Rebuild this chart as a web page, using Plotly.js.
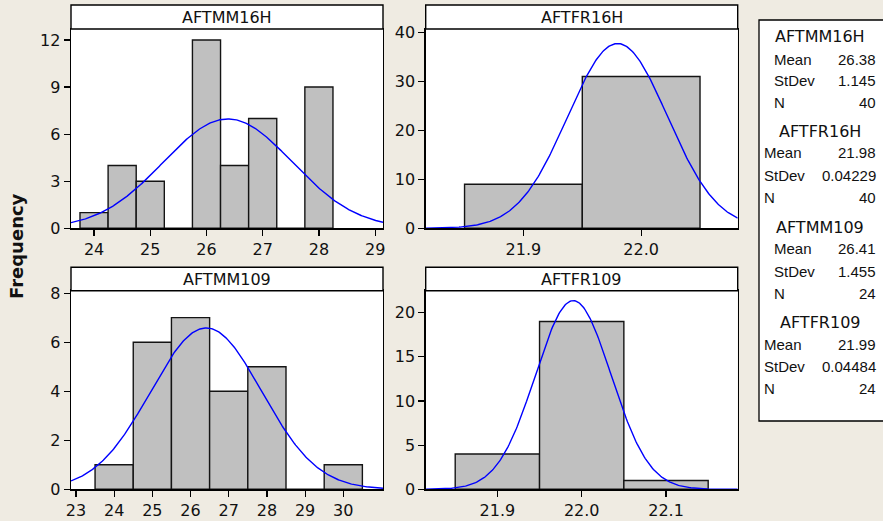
<!DOCTYPE html>
<html>
<head>
<meta charset="utf-8">
<script src="https://cdn.plot.ly/plotly-3.0.1.min.js"></script>
<style>html,body{margin:0;padding:0;background:#EFEBE2;}#chart{width:883px;height:521px;}</style>
</head>
<body>
<div id="chart"></div>
<script>
// ---- Data ----
var panelNames = ["AFTMM16H", "AFTFR16H", "AFTMM109", "AFTFR109"];

var mm16hBins = [24, 24.5, 25, 25.5, 26, 26.5, 27, 27.5, 28];
var mm16hCounts = [1, 4, 3, 0, 12, 4, 7, 0, 9];

var fr16hBins = [21.9, 22.0];
var fr16hCounts = [9, 31];

var mm109Bins = [24, 25, 26, 27, 28, 29, 30];
var mm109Counts = [1, 6, 7, 4, 5, 0, 1];

var fr109Bins = [21.9, 22.0, 22.1];
var fr109Counts = [4, 19, 1];

var binWidths = [0.5, 0.1, 1, 0.1];

// summary statistics shown in the side table
var statMeans = [26.38, 21.98, 26.41, 21.99];
var statStdevs = [1.145, 0.04229, 1.455, 0.04484];
var statNs = [40, 40, 24, 24];
var statMeanText = ["26.38", "21.98", "26.41", "21.99"];
var statStdevText = ["1.145", "0.04229", "1.455", "0.04484"];
var statNText = ["40", "40", "24", "24"];

// tick labels
var xTicks1 = [24, 25, 26, 27, 28, 29];
var xTicks2 = [21.9, 22.0];
var xTicks2Text = ["21.9", "22.0"];
var xTicks3 = [23, 24, 25, 26, 27, 28, 29, 30];
var xTicks4 = [21.9, 22.0, 22.1];
var xTicks4Text = ["21.9", "22.0", "22.1"];

// ---- Layout helpers (pixel -> paper) ----
var W = 883, H = 521;
function px(x) { return x / W; }
function py(y) { return 1 - y / H; }

var xRanges = [[23.59, 29.14], [21.817, 22.082], [22.87, 31.04], [21.815, 22.185]];
var yRanges = [[0, 12.7], [0, 40.7], [0, 8.1], [0, 22.48]];

var bins = [mm16hBins, fr16hBins, mm109Bins, fr109Bins];
var counts = [mm16hCounts, fr16hCounts, mm109Counts, fr109Counts];

var traces = [];
for (var i = 0; i < 4; i++) {
  var xa = i === 0 ? "x" : "x" + (i + 1);
  var ya = i === 0 ? "y" : "y" + (i + 1);
  traces.push({
    type: "bar", x: bins[i], y: counts[i], width: binWidths[i],
    xaxis: xa, yaxis: ya,
    marker: { color: "#C0C0C0", line: { color: "#141414", width: 1.4 } },
    hoverinfo: "skip", showlegend: false
  });
  // fitted normal curve scaled to counts: N * binWidth * pdf(mean, stdev)
  var cx = [], cy = [];
  var r = xRanges[i];
  var steps = 300;
  for (var k = 0; k <= steps; k++) {
    var xv = r[0] + (r[1] - r[0]) * k / steps;
    var z = (xv - statMeans[i]) / statStdevs[i];
    cx.push(xv);
    cy.push(statNs[i] * binWidths[i] * Math.exp(-0.5 * z * z) / (statStdevs[i] * Math.sqrt(2 * Math.PI)));
  }
  traces.push({
    type: "scatter", mode: "lines", x: cx, y: cy,
    xaxis: xa, yaxis: ya,
    line: { color: "#0000FF", width: 1.4 },
    hoverinfo: "skip", showlegend: false
  });
}

var font = { family: "DejaVu Sans", size: 16, color: "#111111" };

function axisBase(extra) {
  var a = {
    showgrid: false, zeroline: false,
    showline: true, linecolor: "#000000", linewidth: 1.4, mirror: true,
    ticks: "outside", ticklen: 6, tickwidth: 1.2, tickcolor: "#000000",
    tickfont: font, fixedrange: true
  };
  for (var k in extra) a[k] = extra[k];
  return a;
}

var colX = [[71, 383], [425.7, 737.7], [71, 383], [425.7, 737.7]];
var plotY = [[29, 228.3], [29, 228.3], [290.7, 489.3], [290.7, 489.3]];
var stripTop = [5, 5, 267.3, 267.3];

var layout = {
  width: W, height: H,
  margin: { l: 0, r: 0, t: 0, b: 0, pad: 0 },
  paper_bgcolor: "#EFEBE2", plot_bgcolor: "#FFFFFF",
  font: font, showlegend: false, bargap: 0,
  xaxis: axisBase({ domain: [px(71), px(383)], range: xRanges[0], tickvals: xTicks1, anchor: "y" }),
  yaxis: axisBase({ domain: [py(228.3), py(29)], range: yRanges[0], dtick: 3, tick0: 0, anchor: "x" }),
  xaxis2: axisBase({ domain: [px(425.7), px(737.7)], range: xRanges[1], tickvals: xTicks2, ticktext: xTicks2Text, anchor: "y2" }),
  yaxis2: axisBase({ domain: [py(228.3), py(29)], range: yRanges[1], dtick: 10, tick0: 0, anchor: "x2" }),
  xaxis3: axisBase({ domain: [px(71), px(383)], range: xRanges[2], tickvals: xTicks3, anchor: "y3" }),
  yaxis3: axisBase({ domain: [py(489.3), py(290.7)], range: yRanges[2], dtick: 2, tick0: 0, anchor: "x3" }),
  xaxis4: axisBase({ domain: [px(425.7), px(737.7)], range: xRanges[3], tickvals: xTicks4, ticktext: xTicks4Text, anchor: "y4" }),
  yaxis4: axisBase({ domain: [py(489.3), py(290.7)], range: yRanges[3], dtick: 5, tick0: 0, anchor: "x4" }),
  shapes: [], annotations: []
};

for (var j = 0; j < 4; j++) {
  layout.shapes.push({
    type: "rect", xref: "paper", yref: "paper",
    x0: px(colX[j][0]), x1: px(colX[j][1]), y0: py(plotY[j][0]), y1: py(stripTop[j]),
    fillcolor: "#FFFFFF", line: { color: "#000000", width: 1.4 }, layer: "above"
  });
  layout.annotations.push({
    xref: "paper", yref: "paper", x: px((colX[j][0] + colX[j][1]) / 2), y: py((stripTop[j] + plotY[j][0]) / 2),
    text: panelNames[j], showarrow: false, xanchor: "center", yanchor: "middle",
    font: font
  });
}

// Frequency label
layout.annotations.push({
  xref: "paper", yref: "paper", x: px(16), y: py(246),
  text: "<b>Frequency</b>", textangle: -90, showarrow: false,
  xanchor: "center", yanchor: "middle",
  font: { family: "DejaVu Sans", size: 18, color: "#111111" }
});

// side statistics table
layout.shapes.push({
  type: "rect", xref: "paper", yref: "paper",
  x0: px(759), x1: px(895), y0: py(421), y1: py(20),
  fillcolor: "#FFFFFF", line: { color: "#000000", width: 1.3 }, layer: "above"
});
var groupTitleY = [37, 131, 227, 322];
var rowGap = 22;
var labelX = [772, 762, 772, 762];
var tFont = { family: "Liberation Sans", size: 15, color: "#111111" };
var rowLabels = ["Mean", "StDev", "N"];
for (var g = 0; g < 4; g++) {
  layout.annotations.push({
    xref: "paper", yref: "paper", x: px(820), y: py(groupTitleY[g]),
    text: panelNames[g], showarrow: false, xanchor: "center", yanchor: "middle", font: font
  });
  var vals = [statMeanText[g], statStdevText[g], statNText[g]];
  for (var rr = 0; rr < 3; rr++) {
    var yy = groupTitleY[g] + rowGap * (rr + 1);
    layout.annotations.push({
      xref: "paper", yref: "paper", x: px(labelX[g]), y: py(yy),
      text: rowLabels[rr], showarrow: false, xanchor: "left", yanchor: "middle", font: tFont
    });
    layout.annotations.push({
      xref: "paper", yref: "paper", x: px(878), y: py(yy),
      text: vals[rr], showarrow: false, xanchor: "right", yanchor: "middle", font: tFont
    });
  }
}

Plotly.newPlot("chart", traces, layout, { staticPlot: true, displayModeBar: false });
</script>
</body>
</html>
